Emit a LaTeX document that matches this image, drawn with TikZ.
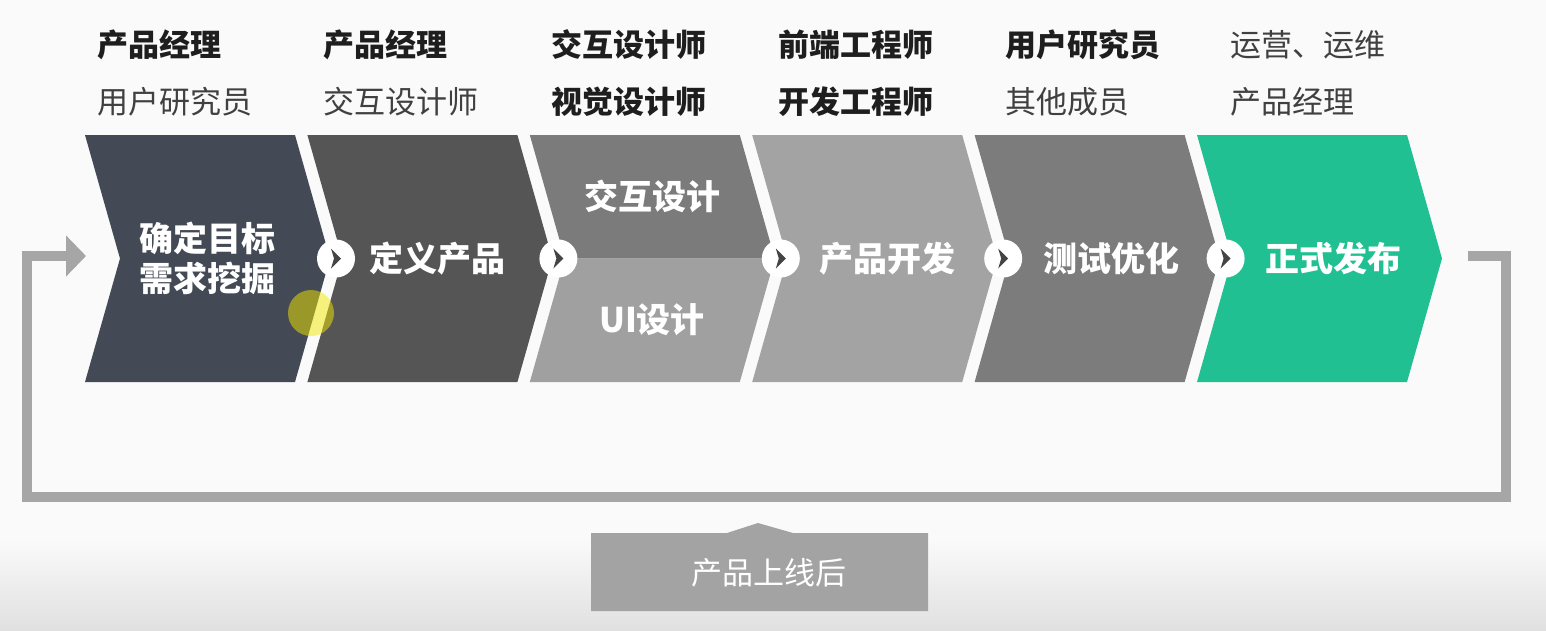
\documentclass[tikz,border=0pt]{standalone}
\usepackage{fontspec}
\setmainfont{Noto Sans CJK SC}
\usetikzlibrary{arrows.meta}
\definecolor{cA}{HTML}{434A55}
\definecolor{cB}{HTML}{555555}
\definecolor{cCt}{HTML}{7B7B7B}
\definecolor{cCb}{HTML}{A0A0A0}
\definecolor{cD}{HTML}{A3A3A3}
\definecolor{cE}{HTML}{7C7C7C}
\definecolor{cF}{HTML}{20C092}
\definecolor{loopc}{HTML}{A6A6A6}
\definecolor{boxc}{HTML}{A3A3A3}
\definecolor{toptxt}{HTML}{1E1E1E}
\definecolor{tiparr}{HTML}{444444}
\tikzset{
  steplabel/.style={text=white, font=\bfseries\fontsize{34}{40}\selectfont, align=center, inner sep=0pt},
  rolebold/.style={anchor=west, text=toptxt, font=\bfseries\fontsize{31}{36}\selectfont, inner sep=0pt},
  rolereg/.style={anchor=west, text=toptxt!85!white, font=\fontsize{31}{36}\selectfont, inner sep=0pt},
  loopline/.style={draw=loopc, line width=10pt},
  joint/.style={circle, fill=white, minimum size=38pt, inner sep=0pt},
}
\newcommand{\chev}[2]{%
  \fill[#2] (#1,135) -- ++(210,0) -- ++(35,123.5) -- ++(-35,123.5) -- ++(-210,0) -- ++(35,-123.5) -- cycle;}
\begin{document}
\begin{tikzpicture}[x=1pt,y=-1pt]
\useasboundingbox (0,0) rectangle (1546,630);
\fill[white!98!black] (0,0) rectangle (1546,630);
\shade[top color=white!98!black, bottom color=white!88!black] (0,540) rectangle (1546,630);
% chevrons
\chev{85}{cA}
\chev{307.4}{cB}
\fill[cCt] (529.8,135) -- ++(210,0) -- ++(35,123.5) -- ++(-210,0) -- cycle;
\fill[cCb] (564.8,258.5) -- ++(210,0) -- ++(-35,123.5) -- ++(-210,0) -- cycle;
\chev{752.2}{cD}
\chev{974.6}{cE}
\chev{1197}{cF}
% joints
\foreach \x [count=\i] in {336,558.4,780.8,1003.2,1225.6}{
  \node[joint] (j\i) at (\x,258.5) {};
  \fill[tiparr] ([shift={(-5,-10)}]j\i.center) -- ++(10,10) -- ++(-10,10) -- ++(3,-10) -- cycle;
}
% step labels
\node[steplabel] (s1) at (207,258.5) {确定目标\\需求挖掘};
\node[steplabel] (s2) at (437,258.5) {定义产品};
\node[steplabel] (s3a) at (652,196) {交互设计};
\node[steplabel] (s3b) at (652,320) {UI设计};
\node[steplabel] (s4) at (887,258.5) {产品开发};
\node[steplabel] (s5) at (1111,258.5) {测试优化};
\node[steplabel] (s6) at (1333,258.5) {正式发布};
% roles
\node[rolebold] (r11) at (97,45) {产品经理};
\node[rolereg]  (r12) at (97,102) {用户研究员};
\node[rolebold] (r21) at (323,45) {产品经理};
\node[rolereg]  (r22) at (323,102) {交互设计师};
\node[rolebold] (r31) at (551,45) {交互设计师};
\node[rolebold] (r32) at (551,102) {视觉设计师};
\node[rolebold] (r41) at (778,45) {前端工程师};
\node[rolebold] (r42) at (778,102) {开发工程师};
\node[rolebold] (r51) at (1005,45) {用户研究员};
\node[rolereg]  (r52) at (1005,102) {其他成员};
\node[rolereg]  (r61) at (1230,45) {运营、运维};
\node[rolereg]  (r62) at (1230,102) {产品经理};
% loop
\coordinate (loopstart) at (1468,256);
\coordinate (loopend) at (86,256);
\draw[loopline, -{Triangle[length=20pt,width=40pt]}] (loopstart) -- (1506,256) -- (1506,497) -- (27,497) -- (27,256) -- (loopend);
% bottom box
\fill[boxc] (591,533) -- (727,533) -- (758,523) -- (793,533) -- (928,533) -- (928,611) -- (591,611) -- cycle;
\node[text=white, font=\fontsize{31}{36}\selectfont, inner sep=0pt] (after) at (769,573) {产品上线后};
% cursor highlight
\fill[yellow!90!olive, opacity=0.5] (311,313) circle[radius=23];
\end{tikzpicture}
\end{document}
